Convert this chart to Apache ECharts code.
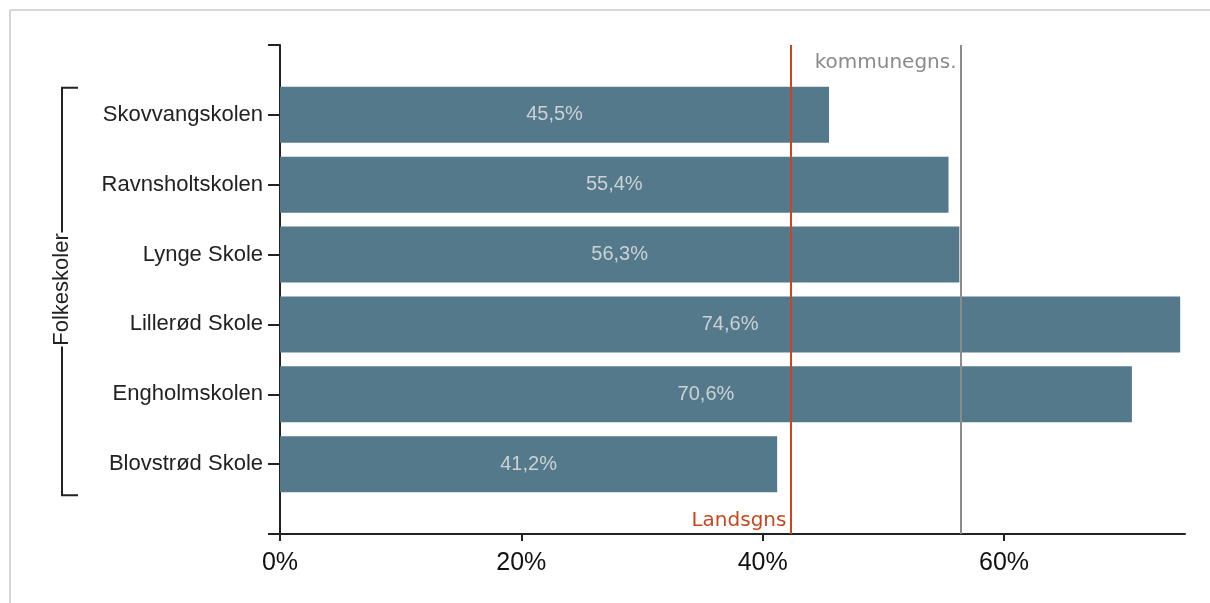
<!DOCTYPE html>
<html>
<head>
<meta charset="utf-8">
<script src="https://cdn.jsdelivr.net/npm/echarts@6/dist/echarts.min.js"></script>
<style>
html,body{margin:0;padding:0;background:#fff;}
#chart{width:1210px;height:603px;}
</style>
</head>
<body>
<div id="chart"></div>
<script>
// ---- data ----
const schools = ['Skovvangskolen', 'Ravnsholtskolen', 'Lynge Skole', 'Lillerød Skole', 'Engholmskolen', 'Blovstrød Skole'];
const shares = [45.5, 55.4, 56.3, 74.6, 70.6, 41.2];
const groupLabel = 'Folkeskoler';
const landsgns = 42.3;
const kommunegns = 56.4;
const xTicks = [0, 20, 40, 60];
const xMax = 75;

// build category axis (bottom -> top), padded with empty slots at both ends
const cats = [''].concat(schools.slice().reverse(), ['']);
const vals = [null].concat(shares.slice().reverse(), [null]);

const fmt = v => v.toFixed(1).replace('.', ',') + '%';
const axisColor = '#222';
const sans = '"Liberation Sans", Arial, sans-serif';

const chart = echarts.init(document.getElementById('chart'), null, {renderer: 'canvas'});
chart.setOption({
  animation: false,
  grid: {left: 280, right: 25, top: 45, bottom: 69, containLabel: false},
  xAxis: {
    type: 'value', min: 0, max: xMax, interval: 20,
    axisLine: {show: true, lineStyle: {color: axisColor, width: 2}},
    axisTick: {show: true, length: 7, lineStyle: {color: axisColor, width: 2}, customValues: xTicks},
    axisLabel: {fontSize: 25, color: '#111', margin: 17, fontFamily: sans,
      customValues: xTicks, formatter: v => v + '%'},
    splitLine: {show: false}
  },
  yAxis: {
    type: 'category', data: cats, boundaryGap: false,
    axisLine: {show: true, lineStyle: {color: axisColor, width: 2}},
    axisTick: {show: true, length: 12, lineStyle: {color: axisColor, width: 2}},
    axisLabel: {fontSize: 22, color: '#222', margin: 17, fontFamily: sans},
    splitLine: {show: false}
  },
  series: [{
    type: 'bar',
    data: vals,
    barWidth: 56,
    itemStyle: {color: '#54798a'},
    label: {show: true, position: 'inside', color: '#cbd2d6', fontSize: 20, fontFamily: sans,
      formatter: p => (p.value == null ? '' : fmt(p.value))},
    markLine: {
      silent: true,
      symbol: 'none',
      data: [
        {xAxis: landsgns,
         lineStyle: {color: '#c8471f', width: 2, type: 'solid'},
         label: {show: true, formatter: 'Landsgns', position: 'start', align: 'right', verticalAlign: 'bottom',
           distance: [0, -3], padding: [0, 4, 0, 0], color: '#c8471f', fontSize: 20, fontFamily: '"DejaVu Sans", sans-serif'}},
        {xAxis: kommunegns,
         lineStyle: {color: '#8c8c8c', width: 2, type: 'solid'},
         label: {show: true, formatter: 'kommunegns.', position: 'end', align: 'right', verticalAlign: 'top',
           distance: [0, -8], padding: [0, 4, 0, 0], color: '#8a8a8a', fontSize: 20, fontFamily: '"DejaVu Sans", sans-serif'}}
      ]
    }
  }]
});

// group bracket, computed from the axis positions
const yTop = chart.convertToPixel({yAxisIndex: 0}, cats.length - 2) - 27;
const yBot = chart.convertToPixel({yAxisIndex: 0}, 1) + 31;
const bx = 62, tickEnd = 78, mid = (yTop + yBot) / 2 - 2, gap = 57;
const ls = {stroke: '#222', lineWidth: 2};
chart.setOption({
  graphic: [
    {type: 'line', shape: {x1: 10, y1: 10, x2: 1210, y2: 10}, style: {stroke: '#d6d6d6', lineWidth: 2}, silent: true},
    {type: 'line', shape: {x1: 10, y1: 10, x2: 10, y2: 603}, style: {stroke: '#d6d6d6', lineWidth: 2}, silent: true},
    {type: 'polyline', shape: {points: [[tickEnd, yTop], [bx, yTop], [bx, mid - gap]]}, style: ls, silent: true},
    {type: 'polyline', shape: {points: [[bx, mid + gap], [bx, yBot], [tickEnd, yBot]]}, style: ls, silent: true},
    {type: 'text', x: bx, y: mid, rotation: Math.PI / 2, silent: true,
      style: {text: groupLabel, align: 'center', verticalAlign: 'middle', fill: '#222', font: '22px "Liberation Sans", Arial, sans-serif'}}
  ]
});
</script>
</body>
</html>
